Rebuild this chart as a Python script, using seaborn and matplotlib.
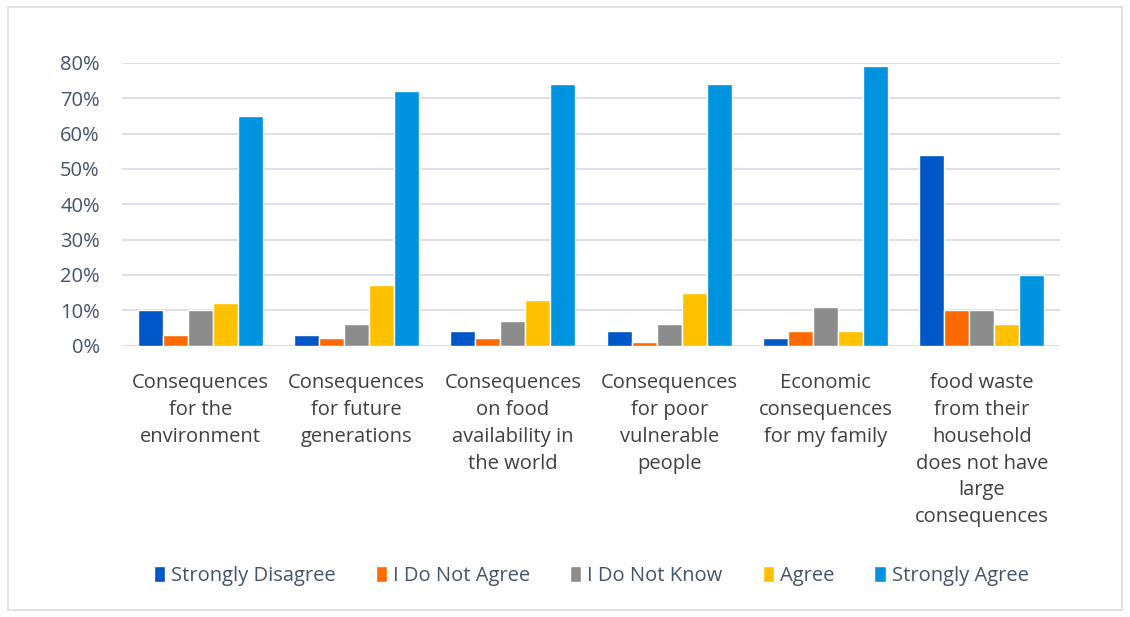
import matplotlib
matplotlib.use("Agg")
import matplotlib.pyplot as plt
import seaborn as sns
import pandas as pd
from matplotlib.patches import Rectangle
from matplotlib.ticker import PercentFormatter

categories = [
    "Consequences\nfor the\nenvironment",
    "Consequences\nfor future\ngenerations",
    "Consequences\non food\navailability in\nthe world",
    "Consequences\nfor poor\nvulnerable\npeople",
    "Economic\nconsequences\nfor my family",
    "food waste\nfrom their\nhousehold\ndoes not have\nlarge\nconsequences",
]
series = ["Strongly Disagree", "I Do Not Agree", "I Do Not Know", "Agree", "Strongly Agree"]
strongly_disagree = [10, 3, 4, 4, 2, 54]
not_agree = [3, 2, 2, 1, 4, 10]
not_know = [10, 6, 7, 6, 11, 10]
agree = [12, 17, 13, 15, 4, 6]
strongly_agree = [65, 72, 74, 74, 79, 20]
colors = ["#0057C8", "#FF6A00", "#8C8C8C", "#FFC000", "#0094E0"]

rows = []
for s, vals in zip(series, [strongly_disagree, not_agree, not_know, agree, strongly_agree]):
    for c, v in zip(categories, vals):
        rows.append({"cat": c, "series": s, "value": v})
df = pd.DataFrame(rows)

sns.set_theme(style="white")
plt.rcParams['font.family'] = ['Open Sans', 'DejaVu Sans']

fig = plt.figure(figsize=(11.3, 6.17), dpi=100)
ax = fig.add_axes([0.108, 0.44, 0.83, 0.458])
sns.barplot(data=df, x="cat", y="value", hue="series", hue_order=series,
            palette=colors, width=0.8, ax=ax, saturation=1, legend=True)

ax.set_ylim(0, 80)
ax.set_yticks(range(0, 81, 10))
ax.yaxis.set_major_formatter(PercentFormatter(decimals=0))
ax.grid(axis="y", color="#DCE0E8", linewidth=1.5)
ax.set_axisbelow(True)
for sp in ax.spines.values():
    sp.set_visible(False)
ax.set_xlabel("")
ax.set_ylabel("")
ax.tick_params(axis="y", labelsize=14.5, colors="#44546A", length=0, pad=16)
ax.tick_params(axis="x", labelsize=14.5, colors="#404040", length=0, pad=20)
for lab in ax.get_xticklabels():
    lab.set_verticalalignment("top")
    lab.set_linespacing(1.45)

leg = ax.legend(loc="center", bbox_to_anchor=(0.5, -0.815), ncol=5, frameon=False,
                fontsize=14.5, handlelength=0.55, handleheight=0.85, handletextpad=0.3,
                columnspacing=2.0)
for t in leg.get_texts():
    t.set_color("#44546A")

fig.patches.append(Rectangle((0.007, 0.012), 0.986, 0.976, transform=fig.transFigure,
                             fill=False, edgecolor="#D9DEE6", linewidth=1.2))
fig.savefig("out.png", dpi=100)
